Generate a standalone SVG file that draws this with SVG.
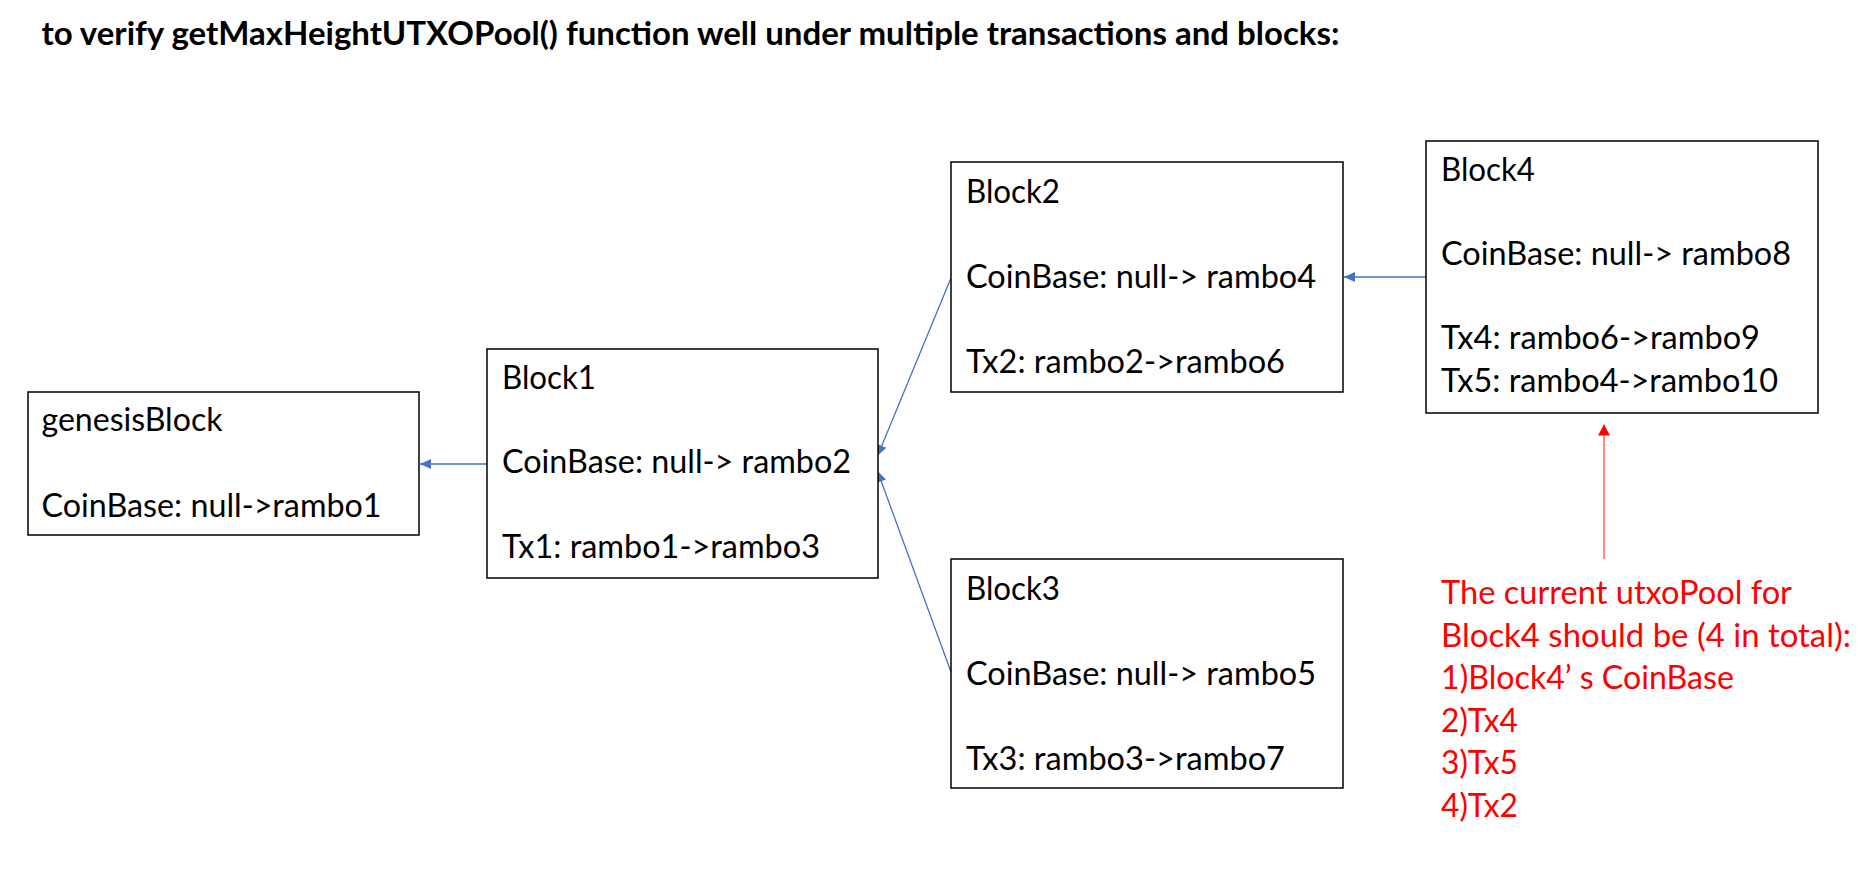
<svg xmlns="http://www.w3.org/2000/svg" width="1864" height="886" viewBox="0 0 1864 886">
  <style>
    .box { fill: #ffffff; stroke: #000000; stroke-width: 1.5; }
    .t { font-family: Lato, "Open Sans", "Liberation Sans", sans-serif; font-size: 32.5px; fill: #000000; }
    .title { font-family: Lato, "Open Sans", "Liberation Sans", sans-serif; font-size: 33px; font-weight: bold; fill: #000000; }
    .red { font-family: Lato, "Open Sans", "Liberation Sans", sans-serif; font-size: 32.5px; fill: #FF0000; }
    .conn { stroke: #4472C4; stroke-width: 1.3; fill: none; }
    .redconn { stroke: #FF6F6F; stroke-width: 1.6; fill: none; }
  </style>
  <defs>
    <marker id="blueArrow" markerUnits="userSpaceOnUse" markerWidth="12" markerHeight="11" refX="11" refY="5" orient="auto">
      <path d="M0,0 L11,5 L0,10 z" fill="#4472C4"/>
    </marker>
    <marker id="redArrow" markerUnits="userSpaceOnUse" markerWidth="12" markerHeight="13" refX="11" refY="6" orient="auto">
      <path d="M0,0 L11,6 L0,12 z" fill="#FF0000"/>
    </marker>
  </defs>
  <rect width="1864" height="886" fill="#ffffff"/>

  <text class="title" x="41.5" y="45" textLength="1298" lengthAdjust="spacingAndGlyphs">to verify getMaxHeightUTXOPool() function well under multiple transactions and blocks:</text>

  <g id="connectors">
    <line class="conn" x1="487" y1="464" x2="420" y2="464" marker-end="url(#blueArrow)"/>
    <line class="conn" x1="951" y1="278" x2="877.5" y2="456" marker-end="url(#blueArrow)"/>
    <line class="conn" x1="951" y1="672" x2="877.5" y2="471" marker-end="url(#blueArrow)"/>
    <line class="conn" x1="1426" y1="277" x2="1344" y2="277" marker-end="url(#blueArrow)"/>
    <line class="redconn" x1="1604" y1="559" x2="1604" y2="424.5" marker-end="url(#redArrow)"/>
  </g>

  <g id="genesisBlock">
    <rect class="box" x="28" y="392" width="391" height="143"/>
    <text class="t" x="41.5" y="431" textLength="181" lengthAdjust="spacingAndGlyphs">genesisBlock</text>
    <text class="t" x="41.5" y="517" textLength="340" lengthAdjust="spacingAndGlyphs">CoinBase: null-&gt;rambo1</text>
  </g>

  <g id="block1">
    <rect class="box" x="487" y="349" width="391" height="229"/>
    <text class="t" x="502" y="389" textLength="94" lengthAdjust="spacingAndGlyphs">Block1</text>
    <text class="t" x="502" y="473" textLength="349" lengthAdjust="spacingAndGlyphs">CoinBase: null-&gt; rambo2</text>
    <text class="t" x="502" y="558" textLength="318" lengthAdjust="spacingAndGlyphs">Tx1: rambo1-&gt;rambo3</text>
  </g>

  <g id="block2">
    <rect class="box" x="951" y="162" width="392" height="230"/>
    <text class="t" x="966" y="203" textLength="94" lengthAdjust="spacingAndGlyphs">Block2</text>
    <text class="t" x="966" y="288" textLength="350" lengthAdjust="spacingAndGlyphs">CoinBase: null-&gt; rambo4</text>
    <text class="t" x="966" y="373" textLength="319" lengthAdjust="spacingAndGlyphs">Tx2: rambo2-&gt;rambo6</text>
  </g>

  <g id="block3">
    <rect class="box" x="951" y="559" width="392" height="229"/>
    <text class="t" x="966" y="600" textLength="94" lengthAdjust="spacingAndGlyphs">Block3</text>
    <text class="t" x="966" y="685" textLength="350" lengthAdjust="spacingAndGlyphs">CoinBase: null-&gt; rambo5</text>
    <text class="t" x="966" y="770" textLength="319" lengthAdjust="spacingAndGlyphs">Tx3: rambo3-&gt;rambo7</text>
  </g>

  <g id="block4">
    <rect class="box" x="1426" y="141" width="392" height="272"/>
    <text class="t" x="1441" y="181" textLength="94" lengthAdjust="spacingAndGlyphs">Block4</text>
    <text class="t" x="1441" y="265" textLength="350" lengthAdjust="spacingAndGlyphs">CoinBase: null-&gt; rambo8</text>
    <text class="t" x="1441" y="349" textLength="319" lengthAdjust="spacingAndGlyphs">Tx4: rambo6-&gt;rambo9</text>
    <text class="t" x="1441" y="392" textLength="337" lengthAdjust="spacingAndGlyphs">Tx5: rambo4-&gt;rambo10</text>
  </g>

  <g id="note">
    <text class="red" x="1441" y="604" textLength="351" lengthAdjust="spacingAndGlyphs">The current utxoPool for</text>
    <text class="red" x="1441" y="646.6" textLength="410" lengthAdjust="spacingAndGlyphs">Block4 should be (4 in total):</text>
    <text class="red" x="1441" y="689.2" textLength="293" lengthAdjust="spacingAndGlyphs">1)Block4’ s CoinBase</text>
    <text class="red" x="1441" y="731.8" textLength="77" lengthAdjust="spacingAndGlyphs">2)Tx4</text>
    <text class="red" x="1441" y="774.4" textLength="77" lengthAdjust="spacingAndGlyphs">3)Tx5</text>
    <text class="red" x="1441" y="817" textLength="77" lengthAdjust="spacingAndGlyphs">4)Tx2</text>
  </g>
</svg>
